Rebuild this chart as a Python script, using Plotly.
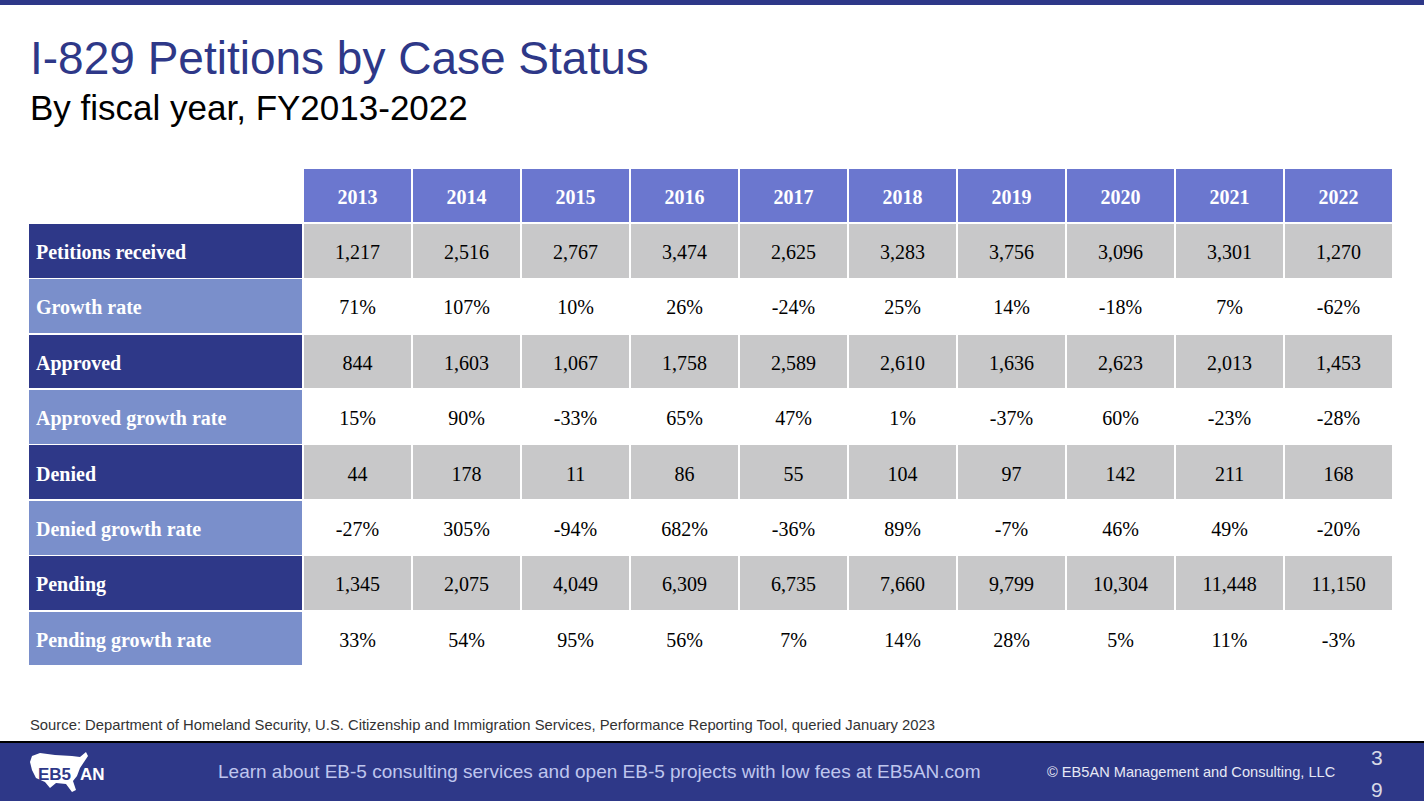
import plotly.graph_objects as go

# ---------------- data ----------------
years = [2013, 2014, 2015, 2016, 2017, 2018, 2019, 2020, 2021, 2022]
row_labels = ["Petitions received", "Growth rate", "Approved", "Approved growth rate",
              "Denied", "Denied growth rate", "Pending", "Pending growth rate"]
received = [1217, 2516, 2767, 3474, 2625, 3283, 3756, 3096, 3301, 1270]
received_growth = [71, 107, 10, 26, -24, 25, 14, -18, 7, -62]
approved = [844, 1603, 1067, 1758, 2589, 2610, 1636, 2623, 2013, 1453]
approved_growth = [15, 90, -33, 65, 47, 1, -37, 60, -23, -28]
denied = [44, 178, 11, 86, 55, 104, 97, 142, 211, 168]
denied_growth = [-27, 305, -94, 682, -36, 89, -7, 46, 49, -20]
pending = [1345, 2075, 4049, 6309, 6735, 7660, 9799, 10304, 11448, 11150]
pending_growth = [33, 54, 95, 56, 7, 14, 28, 5, 11, -3]

series = [(received, "n"), (received_growth, "p"), (approved, "n"), (approved_growth, "p"),
          (denied, "n"), (denied_growth, "p"), (pending, "n"), (pending_growth, "p")]

W, H = 1424, 801
DARK = "#2E3888"
LIGHT = "#7A8FCB"
HEAD = "#6B77CF"
GRAY = "#C8C8C9"
SERIF = "Liberation Serif"
SANS = "Liberation Sans"
CLEAR = "rgba(0,0,0,0)"


def fmt(v, kind):
    return f"{v:,}" if kind == "n" else f"{v}%"


label_col = list(row_labels)
data_cols = []
for i in range(len(years)):
    data_cols.append([fmt(s[i], k) for s, k in series])
header_vals = [""] + [str(y) for y in years]

label_fill = [DARK if r % 2 == 0 else LIGHT for r in range(len(row_labels))]
data_fill = [GRAY if r % 2 == 0 else "white" for r in range(len(row_labels))]

ncol = len(years)
colw = [275] + [109] * ncol
TOP = 168
X0, X1 = 28 / W, 1393 / W

blank_cells = [[""] * len(row_labels) for _ in range(ncol + 1)]

fig = go.Figure()
# table 1: cell fills and white separators only
fig.add_trace(go.Table(
    domain=dict(x=[X0, X1], y=[0.1, 1 - TOP / H]),
    columnwidth=colw,
    header=dict(
        values=[""] * (ncol + 1),
        fill_color=["white"] + [HEAD] * ncol,
        line=dict(color="white", width=1.5),
        font=dict(family=SERIF, size=20),
        height=55,
    ),
    cells=dict(
        values=blank_cells,
        fill_color=[label_fill] + [data_fill] * ncol,
        line=dict(color="white", width=1.5),
        font=dict(family=SERIF, size=20),
        height=55.4,
    ),
))
# table 2: the text, transparent background, lowered so its text sits mid-cell
SHIFT = 13
fig.add_trace(go.Table(
    domain=dict(x=[X0, X1], y=[0.08, 1 - (TOP + SHIFT) / H]),
    columnwidth=colw,
    header=dict(
        values=header_vals,
        fill_color=CLEAR,
        line=dict(color=CLEAR, width=0),
        font=dict(family=SERIF, size=20, color="white", weight="bold"),
        align="center", height=55,
    ),
    cells=dict(
        values=[label_col] + data_cols,
        fill_color=CLEAR,
        line=dict(color=CLEAR, width=0),
        font=dict(family=SERIF, size=20, color=["white"] + ["black"] * ncol,
                  weight=["bold"] + ["normal"] * ncol),
        align=["left"] + ["center"] * ncol, height=55.4,
    ),
))

shapes = [
    dict(type="rect", xref="paper", yref="paper", x0=0, x1=1, y0=1 - 5 / H, y1=1,
         fillcolor=DARK, line=dict(width=0), layer="above"),
    dict(type="rect", xref="paper", yref="paper", x0=0, x1=1, y0=0, y1=1 - 742 / H,
         fillcolor=DARK, line=dict(width=0), layer="below"),
    dict(type="line", xref="paper", yref="paper", x0=0, x1=1, y0=1 - 742 / H, y1=1 - 742 / H,
         line=dict(color="black", width=2)),
]


def px(x, y):
    return f"{x / W:.5f},{1 - y / H:.5f}"


map_pts = [(32, 756), (40, 753), (55, 755), (72, 756), (80, 757), (86, 752), (88, 756),
           (84, 762), (80, 768), (77, 776), (73, 781), (76, 790), (72, 792), (66, 784),
           (56, 783), (50, 788), (45, 782), (36, 778), (32, 770), (30, 762)]
path = "M " + " L ".join(px(x, y) for x, y in map_pts) + " Z"
shapes.append(dict(type="path", xref="paper", yref="paper", path=path,
                   fillcolor="white", line=dict(width=0), layer="above"))


def ann(text, x, y, size, color, anchor="left"):
    return dict(text=text, x=x / W, y=1 - y / H, xanchor=anchor, yanchor="middle",
                showarrow=False, xref="paper", yref="paper",
                font=dict(family=SANS, size=size, color=color))


annotations = [
    ann("I-829 Petitions by Case Status", 28, 58, 46, DARK),
    ann("By fiscal year, FY2013-2022", 28, 107, 35, "black"),
    ann("Source: Department of Homeland Security, U.S. Citizenship and Immigration Services, "
        "Performance Reporting Tool, queried January 2023", 28, 725, 14.8, "#333333"),
    ann("Learn about EB-5 consulting services and open EB-5 projects with low fees at EB5AN.com",
        599, 771, 19, "#BFC6EE", anchor="center"),
    ann("© EB5AN Management and Consulting, LLC", 1191, 772, 14.6, "#E6E8F5", anchor="center"),
    ann("3", 1377, 757, 21, "#D8DAE6", anchor="center"),
    ann("9", 1377, 789, 21, "#D8DAE6", anchor="center"),
    ann("<b>EB5</b>", 36, 774, 17, DARK),
    ann("<b>AN</b>", 78, 774, 17, "white"),
]

fig.update_layout(
    width=W, height=H, margin=dict(l=0, r=0, t=0, b=0),
    paper_bgcolor="white", plot_bgcolor="white",
    shapes=shapes, annotations=annotations, showlegend=False,
)

fig.write_html(
    "out.html",
    config={"displayModeBar": False},
    post_script="document.body.style.margin='0';document.body.style.padding='0';"
                "document.body.style.overflow='hidden';",
)
